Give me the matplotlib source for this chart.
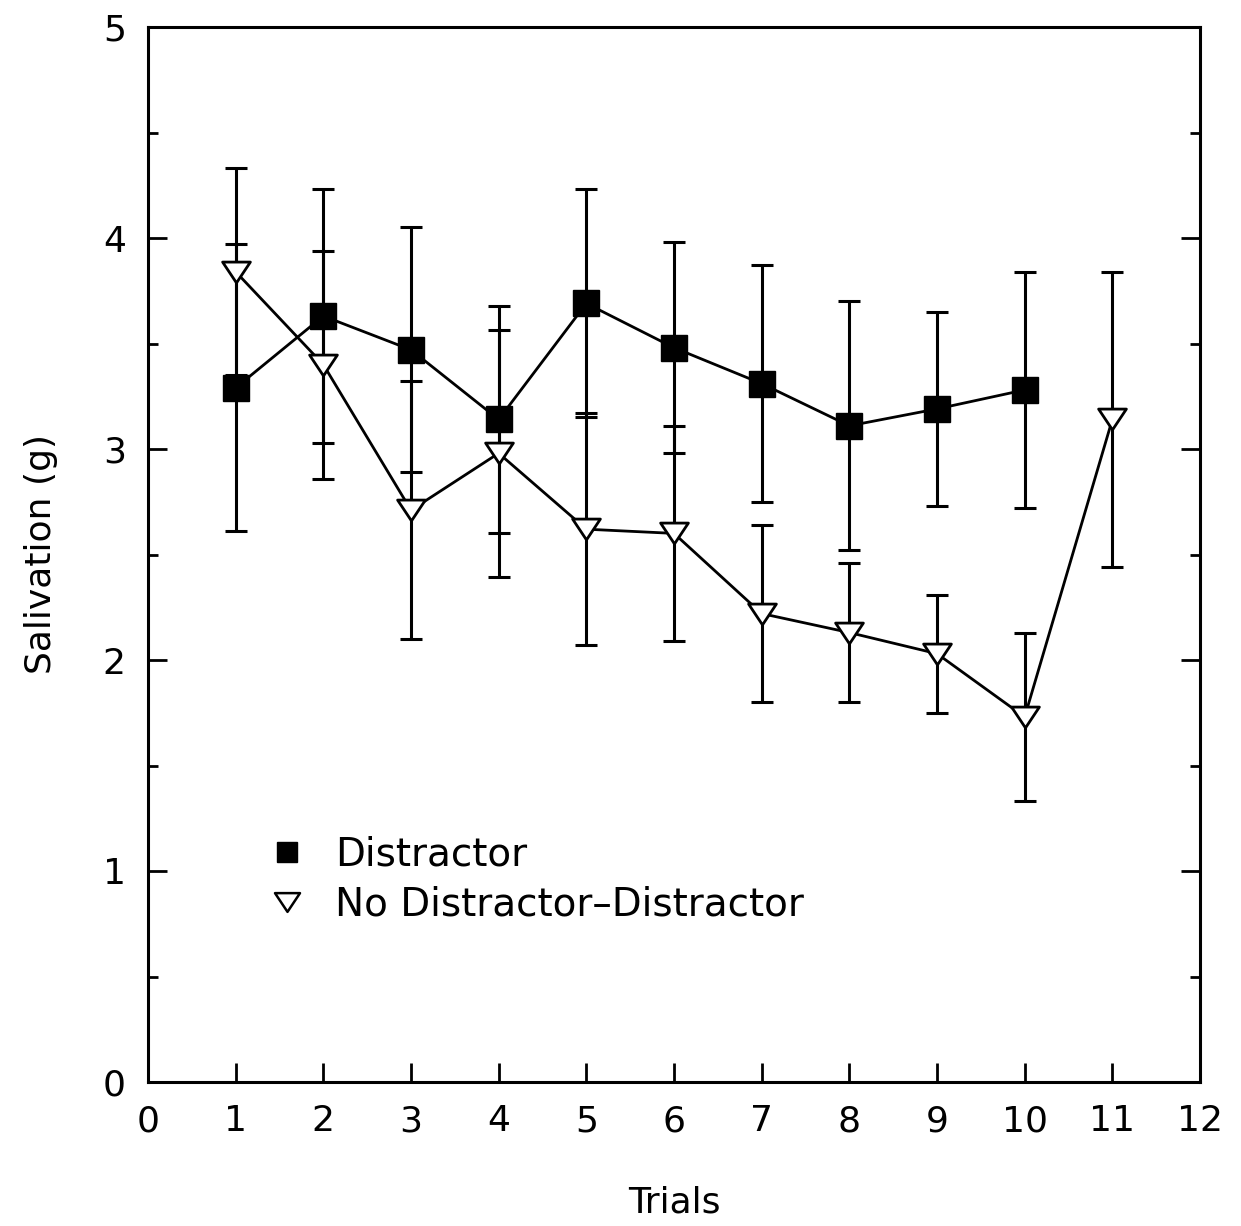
import matplotlib
matplotlib.use("Agg")
import matplotlib.pyplot as plt
from matplotlib.lines import Line2D
from matplotlib.path import Path
from matplotlib.ticker import MultipleLocator

# ---- data ----
trials_d = [1, 2, 3, 4, 5, 6, 7, 8, 9, 10]
distractor = [3.29, 3.63, 3.47, 3.14, 3.69, 3.48, 3.31, 3.11, 3.19, 3.28]
distractor_err = [0.68, 0.60, 0.58, 0.54, 0.54, 0.50, 0.56, 0.59, 0.46, 0.56]

trials_n = [1, 2, 3, 4, 5, 6, 7, 8, 9, 10, 11]
no_distractor = [3.84, 3.40, 2.71, 2.98, 2.62, 2.60, 2.22, 2.13, 2.03, 1.73, 3.14]
no_distractor_err = [0.49, 0.54, 0.61, 0.585, 0.55, 0.51, 0.42, 0.33, 0.28, 0.40, 0.70]

labels = ["Distractor", "No Distractor\u2013Distractor"]
xticks = list(range(0, 13))
yticks = [0, 1, 2, 3, 4, 5]

plt.rcParams['font.family'] = ['DejaVu Sans']

fig = plt.figure(figsize=(12.41, 12.26), dpi=100)
ax = fig.add_axes([148 / 1241, 1 - 1082 / 1226, (1200 - 148) / 1241, (1082 - 27) / 1226])

tri = Path([(-1, 0.75), (1, 0.75), (0, -0.75), (-1, 0.75)], closed=True)

ax.errorbar(trials_d, distractor, yerr=distractor_err, fmt='none', ecolor='black',
            elinewidth=2.2, capsize=8, capthick=2.2, zorder=2)
ax.errorbar(trials_n, no_distractor, yerr=no_distractor_err, fmt='none', ecolor='black',
            elinewidth=2.2, capsize=8, capthick=2.2, zorder=2)
ax.plot(trials_d, distractor, color='black', lw=2.0, zorder=3)
ax.plot(trials_n, no_distractor, color='black', lw=2.0, zorder=3)
ax.plot(trials_d, distractor, linestyle='none', marker='s', markersize=18.5,
        markerfacecolor='black', markeredgecolor='black', zorder=4)
ax.plot(trials_n, no_distractor, linestyle='none', marker=tri, markersize=20,
        markerfacecolor='white', markeredgecolor='black', markeredgewidth=2.0, zorder=4)

ax.set_xlim(0, 12)
ax.set_ylim(0, 5)
ax.set_xticks(xticks)
ax.set_xticklabels([str(t) for t in xticks])
ax.set_yticks(yticks)
ax.set_yticklabels([str(t) for t in yticks])
ax.yaxis.set_minor_locator(MultipleLocator(0.5))

ax.tick_params(axis='both', which='major', direction='in', length=14, width=2,
               labelsize=26, right=True, top=False)
ax.tick_params(axis='x', which='major', pad=16)
ax.tick_params(axis='y', which='major', pad=16)
ax.tick_params(axis='y', which='minor', direction='in', length=7, width=2, right=True)
ax.tick_params(axis='x', which='minor', bottom=False, top=False)

for s in ax.spines.values():
    s.set_linewidth(2.2)

ax.set_xlabel("Trials", fontsize=26)
ax.set_ylabel("Salivation (g)", fontsize=26)
ax.xaxis.set_label_coords(0.5, -0.098)
ax.yaxis.set_label_coords(-0.086, 0.5)

handles = [
    Line2D([], [], linestyle='none', marker='s', markersize=15,
           markerfacecolor='black', markeredgecolor='black'),
    Line2D([], [], linestyle='none', marker=tri, markersize=18,
           markerfacecolor='white', markeredgecolor='black', markeredgewidth=1.8),
]
ax.legend(handles, labels, loc='upper left', bbox_to_anchor=(0.10, 0.248),
          frameon=False, fontsize=28, handlelength=0.95, handletextpad=0.75,
          labelspacing=0.3, borderaxespad=0)

fig.savefig("out.png", dpi=100)
